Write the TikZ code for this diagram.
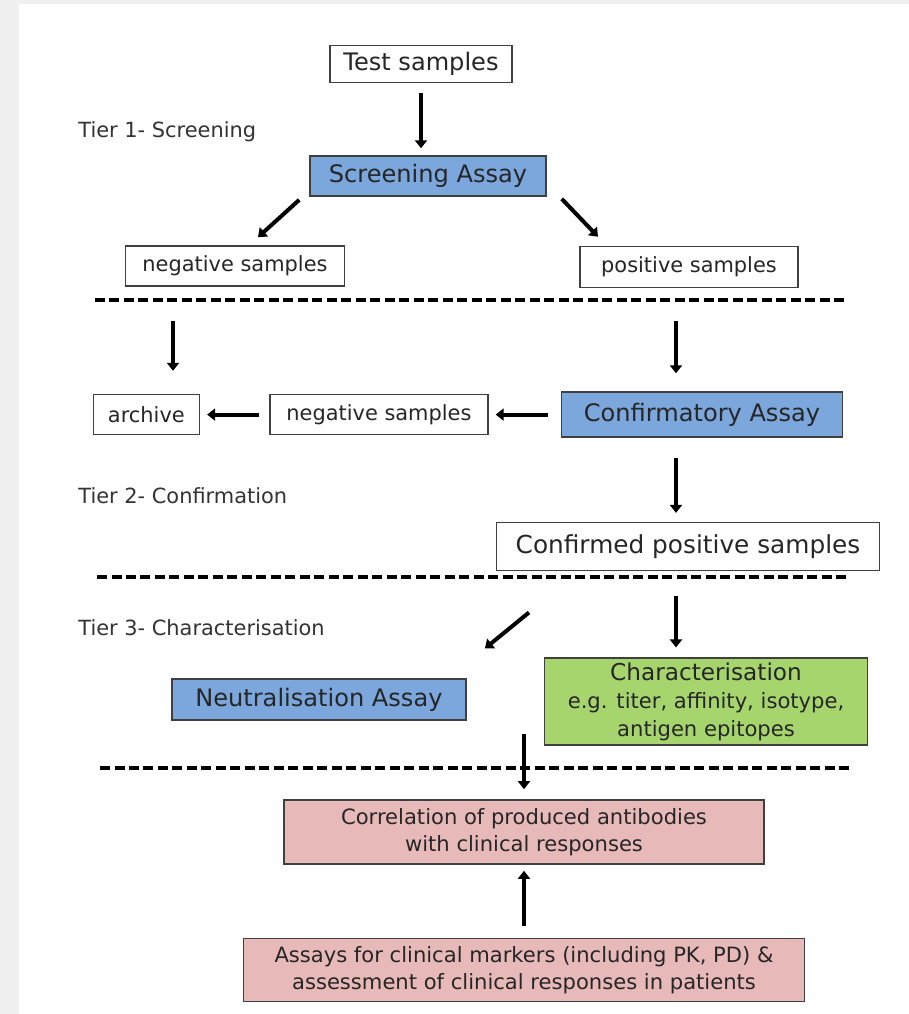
\documentclass[tikz,border=0pt]{standalone}
\usepackage{fontspec}
\setmainfont{DejaVu Sans}
\usepackage{xcolor}
\usepackage{tikz}
\usetikzlibrary{arrows.meta, positioning, calc}

\definecolor{assayblue}{HTML}{7BA7DD}
\definecolor{chargreen}{HTML}{A6D56E}
\definecolor{corrpink}{HTML}{E8B9B9}
\definecolor{pagegray}{HTML}{F0F0F0}

\newcommand{\detailfont}{\fontsize{12}{15.5}\selectfont}

\begin{document}
\begin{tikzpicture}[
    plainbox/.style={rectangle, draw=black!75, line width=0.9pt, fill=white, align=center, inner sep=0pt, text=black!85},
    assay/.style={plainbox, fill=assayblue},
    charbox/.style={plainbox, fill=chargreen},
    corrbox/.style={plainbox, fill=corrpink},
    bigtext/.style={font=\fontsize{13.7}{16}\selectfont},
    midtext/.style={font=\fontsize{11.9}{14}\selectfont},
    smalltext/.style={font=\detailfont},
    tier/.style={anchor=west, inner sep=0pt, text=black!80, font=\fontsize{11.9}{14}\selectfont},
    arrow/.style={-{Triangle[length=0.16cm, width=0.24cm]}, line width=0.08cm},
    separator/.style={line width=0.07cm, dash pattern=on 0.2cm off 0.09cm}
]

% page
\useasboundingbox (0,0) rectangle (18.18,-20.28);
\fill[pagegray] (0,0) rectangle (18.18,-20.28);
\fill[white] (0.38,-0.08) rectangle (18.18,-20.28);

% tier 1
\node[plainbox, bigtext, minimum width=3.64cm, minimum height=0.74cm] (test) at (8.42,-1.28) {Test samples};
\node[assay, bigtext, minimum width=4.72cm, minimum height=0.8cm, below=1.44cm of test, xshift=0.14cm] (screen) {Screening Assay};
\node[plainbox, midtext, minimum width=4.38cm, minimum height=0.8cm] (neg) at (4.7,-5.32) {negative samples};
\node[plainbox, midtext, minimum width=4.36cm, minimum height=0.82cm] (pos) at (13.78,-5.34) {positive samples};

% tier 2
\node[assay, bigtext, minimum width=5.62cm, minimum height=0.9cm, below=2.06cm of pos, xshift=0.26cm] (confirm) {Confirmatory Assay};
\node[plainbox, midtext, minimum width=4.36cm, minimum height=0.8cm, left=1.44cm of confirm] (negtwo) {negative samples};
\node[plainbox, midtext, minimum width=2.12cm, minimum height=0.8cm, left=1.38cm of negtwo] (archive) {archive};
\node[plainbox, font=\fontsize{14.1}{16}\selectfont, minimum width=7.66cm, minimum height=0.96cm, below=1.68cm of confirm, xshift=-0.28cm] (confirmed) {Confirmed positive samples};

% tier 3
\node[charbox, font=\fontsize{13.2}{16}\selectfont, minimum width=6.46cm, minimum height=1.74cm, below=1.72cm of confirmed, xshift=0.36cm] (charact)
    {Characterisation\\\detailfont e.g. titer, affinity, isotype,\\\detailfont antigen epitopes};
\node[assay, bigtext, minimum width=5.88cm, minimum height=0.82cm, left=1.54cm of charact, yshift=0.04cm] (neut) {Neutralisation Assay};

\node[corrbox, smalltext, minimum width=9.6cm, minimum height=1.28cm] (corr) at (10.48,-16.64)
    {Correlation of produced antibodies\\with clinical responses};
\node[corrbox, smalltext, minimum width=11.22cm, minimum height=1.26cm, below=1.46cm of corr] (clinical)
    {Assays for clinical markers (including PK, PD) \&\\assessment of clinical responses in patients};

\node[tier] (tierone) at (1.56,-2.64) {Tier 1- Screening};
\node[tier] (tiertwo) at (1.56,-9.92) {Tier 2- Confirmation};
\node[tier] (tierthree) at (1.56,-12.56) {Tier 3- Characterisation};

% separators
\draw[separator] (1.9,-6.0) -- (16.96,-6.0);
\draw[separator] (1.94,-11.54) -- (17.0,-11.54);
\draw[separator] (2.0,-15.36) -- (17.04,-15.36);

\coordinate (merge) at ([yshift=0.24cm]corr.north |- charact.south);

\draw[arrow, shorten <=0.2cm, shorten >=0.14cm] (test.south) -- (test.south |- screen.north);
\draw[arrow] ([xshift=-0.2cm, yshift=-0.06cm]screen.south west) -- ([xshift=0.46cm, yshift=0.16cm]neg.north);
\draw[arrow] ([xshift=0.3cm, yshift=-0.04cm]screen.south east) -- ([xshift=-1.82cm, yshift=0.18cm]pos.north);

\draw[arrow, shorten <=0.68cm, shorten >=0.46cm] ([xshift=-1.24cm]neg.south) -- ([xshift=-1.24cm]neg.south |- archive.north);
\draw[arrow, shorten <=0.66cm, shorten >=0.36cm] ([xshift=-0.26cm]pos.south) -- ([xshift=-0.26cm]pos.south |- confirm.north);
\draw[arrow, shorten <=0.26cm, shorten >=0.14cm] (confirm.west) -- (negtwo.east);
\draw[arrow, shorten <=0.2cm, shorten >=0.14cm] (negtwo.west) -- (archive.east);
\draw[arrow, shorten <=0.4cm, shorten >=0.18cm] ([xshift=-0.52cm]confirm.south) -- ([xshift=-0.52cm]confirm.south |- confirmed.north);

\draw[arrow] ([xshift=-3.18cm, yshift=-0.82cm]confirmed.south) -- ([xshift=3.32cm, yshift=0.6cm]neut.north);
\draw[arrow, shorten <=0.5cm, shorten >=0.2cm] ([xshift=-0.24cm]confirmed.south) -- ([xshift=-0.24cm]confirmed.south |- charact.north);
\draw[arrow, shorten >=0.2cm] (merge) -- (corr.north);
\draw[arrow, shorten <=0.24cm, shorten >=0.12cm] (clinical.north) -- (corr.south);

\end{tikzpicture}
\end{document}
